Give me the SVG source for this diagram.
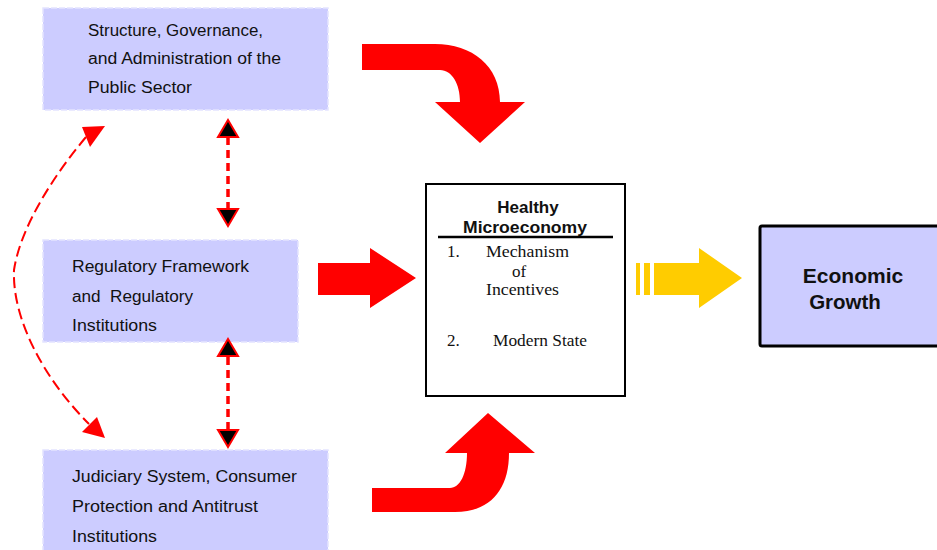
<svg xmlns="http://www.w3.org/2000/svg" width="937" height="550" viewBox="0 0 937 550">
<style>
.box{fill:#ccccff;stroke:#e4e4ff;stroke-width:1.5;stroke-dasharray:6 2}
.t{font-family:"Liberation Sans",Arial,sans-serif;font-size:16px;fill:#111}
.s{font-family:"Liberation Serif","Times New Roman",serif;font-size:17px;fill:#111}
.b{font-family:"Liberation Sans",Arial,sans-serif;font-weight:bold;fill:#111;text-anchor:middle}
.red{fill:#ff0000}
.dash{fill:none;stroke:#ff0000;stroke-width:3.5;stroke-dasharray:8 5}
.dash2{fill:none;stroke:#ff0000;stroke-width:2;stroke-dasharray:11 5}
.head{fill:#000;stroke:#ff0000;stroke-width:2;stroke-linejoin:miter}
.rh{fill:#ff0000}
</style>
<rect width="937" height="550" fill="#fff"/>
<g id="node-public-sector">
<rect class="box" x="43" y="8" width="285" height="102"/>
<text class="t" x="88" y="36" textLength="175" lengthAdjust="spacingAndGlyphs">Structure, Governance,</text>
<text class="t" x="88" y="64" textLength="193" lengthAdjust="spacingAndGlyphs">and Administration of the</text>
<text class="t" x="88" y="93" textLength="104" lengthAdjust="spacingAndGlyphs">Public Sector</text>
</g>
<g id="node-regulatory">
<rect class="box" x="43" y="240" width="255" height="102"/>
<text class="t" x="72" y="272" textLength="177" lengthAdjust="spacingAndGlyphs">Regulatory Framework</text>
<text class="t" x="72" y="302" textLength="121" lengthAdjust="spacingAndGlyphs" style="white-space:pre">and  Regulatory</text>
<text class="t" x="72" y="331" textLength="85" lengthAdjust="spacingAndGlyphs">Institutions</text>
</g>
<g id="node-judiciary">
<rect class="box" x="43" y="450" width="285" height="102"/>
<text class="t" x="72" y="482" textLength="225" lengthAdjust="spacingAndGlyphs">Judiciary System, Consumer</text>
<text class="t" x="72" y="512" textLength="186" lengthAdjust="spacingAndGlyphs">Protection and Antitrust</text>
<text class="t" x="72" y="542" textLength="85" lengthAdjust="spacingAndGlyphs">Institutions</text>
</g>
<g id="node-microeconomy">
<rect x="426" y="184" width="199" height="212" fill="#fff" stroke="#000" stroke-width="2"/>
<text class="b" x="528" y="213" font-size="17">Healthy</text>
<text class="b" x="525" y="233" font-size="17" textLength="124" lengthAdjust="spacingAndGlyphs">Microeconomy</text>
<line x1="438" y1="237" x2="613" y2="237" stroke="#000" stroke-width="2.5"/>
<text class="s" x="447" y="257">1.</text>
<text class="s" x="486" y="257" textLength="83" lengthAdjust="spacingAndGlyphs">Mechanism</text>
<text class="s" x="512" y="277">of</text>
<text class="s" x="486" y="295" textLength="73" lengthAdjust="spacingAndGlyphs">Incentives</text>
<text class="s" x="447" y="346">2.</text>
<text class="s" x="493" y="346" textLength="94" lengthAdjust="spacingAndGlyphs">Modern State</text>
</g>
<g id="node-growth">
<rect x="760" y="226" width="185" height="120" fill="#ccccff" stroke="#000" stroke-width="3" rx="2"/>
<text class="b" x="853" y="283" font-size="21">Economic</text>
<text class="b" x="845" y="309" font-size="20.5">Growth</text>
</g>
<g id="connectors">
<path class="red" d="M362,44 L435,44 C472,44 500,66 500,102 L525,102 L480,143 L435,102 L460,102 C460,84 452,70 440,70 L362,70 Z"/>
<path class="red" d="M318,263 L370,263 L370,248 L416,278 L370,308 L370,295 L318,295 Z"/>
<path class="red" d="M372,488 L450,488 C460,488 467,474 467,453 L445,453 L488,413 L535,453 L509,453 C509,490 490,512 455,512 L372,512 Z"/>
<g fill="#ffcc00">
<rect x="636" y="263" width="4" height="32"/>
<rect x="644" y="263" width="6" height="32"/>
<path d="M654,263 L699,263 L699,248 L742,278 L699,308 L699,295 L654,295 Z"/>
</g>
<line class="dash" x1="228" y1="137" x2="228" y2="209"/>
<polygon class="head" points="228,120 238,137 218,137"/>
<polygon class="head" points="228,226 238,209 218,209"/>
<line class="dash" x1="228" y1="357" x2="228" y2="430"/>
<polygon class="head" points="228,339 238,356 218,356"/>
<polygon class="head" points="228,447 238,430 218,430"/>
<path class="dash2" d="M86,137 C50,180 20,230 14,270 C12,320 45,380 89,424"/>
<polygon class="rh" points="105,126 82,127 90,147"/>
<polygon class="rh" points="105,438 82,432 97,417"/>
</g>
</svg>
